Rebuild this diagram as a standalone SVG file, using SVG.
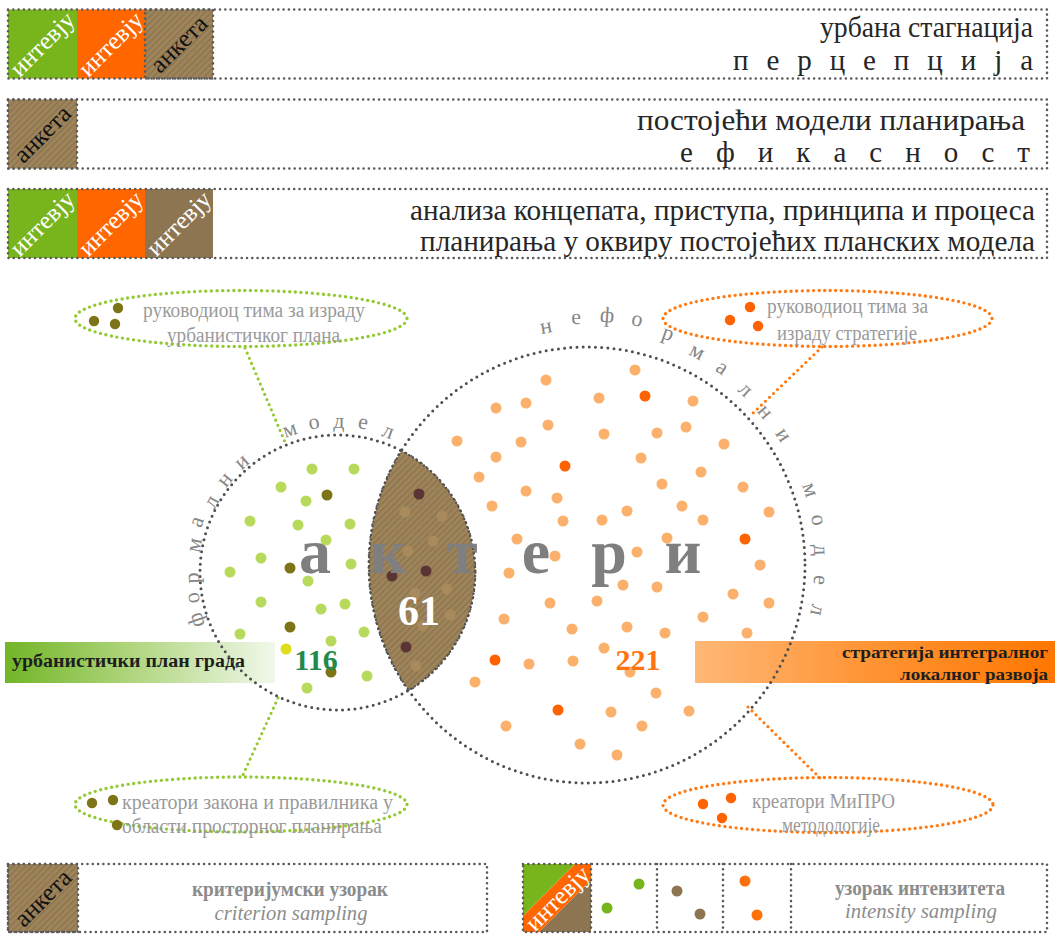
<svg xmlns="http://www.w3.org/2000/svg" width="1055" height="934" viewBox="0 0 1055 934">
<defs>
<pattern id="hatch" width="4.5" height="4.5" patternUnits="userSpaceOnUse" patternTransform="rotate(45)">
<rect width="4.5" height="4.5" fill="#9e845b"/>
<rect width="1.3" height="4.5" fill="#8b734c"/>
</pattern>
<linearGradient id="gGreen" x1="0" x2="1" y1="0" y2="0">
<stop offset="0" stop-color="#72b526"/><stop offset="0.45" stop-color="#add47a"/><stop offset="1" stop-color="#f1f8ea"/>
</linearGradient>
<linearGradient id="gOrange" x1="0" x2="1" y1="0" y2="0">
<stop offset="0" stop-color="#ffb877"/><stop offset="0.45" stop-color="#ff9638"/><stop offset="1" stop-color="#ff7700"/>
</linearGradient>
</defs>
<style>
.box{fill:none;stroke:#5a5a5a;stroke-width:2.6;stroke-dasharray:0 5.3;stroke-linecap:round}
.hd{font-family:"Liberation Serif",serif;font-size:29px;fill:#262626;text-anchor:end}
.sq{font-family:"Liberation Serif",serif;font-size:25px;text-anchor:middle}
.el{fill:none;stroke-width:3.4;stroke-dasharray:0 5.6;stroke-linecap:round}
.gr{stroke:#93c932}
.or{stroke:#ff7a12}
.con{fill:none;stroke-width:3.2;stroke-dasharray:0 5.6;stroke-linecap:round}
.circ{fill:none;stroke:#4f4f4f;stroke-width:3;stroke-dasharray:0 6.2;stroke-linecap:round}
.et{font-family:"Liberation Serif",serif;font-size:20px;fill:#9a9a9a}
.arc{font-family:"Liberation Serif",serif;font-size:22px;fill:#868686;text-anchor:middle}
.big{font-family:"Liberation Serif",serif;font-size:64px;font-weight:bold;fill:#7f7f7f;text-anchor:middle}
.lg{fill:#b8da5c}.ol{fill:#7d7418}.lo{fill:#fbb16c}.do{fill:#ff6200}.ld{fill:#5b3535}.lf{fill:#a88a5c}
.bt{font-family:"Liberation Serif",serif;font-weight:bold;fill:#1e1e1e}
.lt{font-family:"Liberation Serif",serif;fill:#8c8c8c;text-anchor:middle}
</style>

<!-- Row 1 -->
<g id="row1">
<rect x="8" y="9.5" width="69" height="69" fill="#78b51d"/>
<rect x="77" y="9.5" width="68" height="69" fill="#ff6600"/>
<rect x="145" y="9.5" width="68" height="69" fill="url(#hatch)"/>
<rect x="145" y="9.5" width="68" height="69" class="box"/>
<text class="sq" fill="#fff" transform="translate(42.5,44) rotate(-45)" y="8">интевју</text>
<text class="sq" fill="#fff" transform="translate(111,44) rotate(-45)" y="8">интевју</text>
<text class="sq" fill="#111" transform="translate(179,44) rotate(-45)" y="8">анкета</text>
<rect x="8" y="9.5" width="1039" height="69" class="box"/>
<text class="hd" x="1033" y="37" textLength="213" lengthAdjust="spacingAndGlyphs">урбана стагнација</text>
<text class="hd" x="1033" y="70" textLength="300">п е р ц е п ц и ј а</text>
</g>

<!-- Row 2 -->
<g id="row2">
<rect x="8" y="99.5" width="69" height="69" fill="url(#hatch)"/>
<rect x="8" y="99.5" width="69" height="69" class="box"/>
<text class="sq" fill="#111" transform="translate(42.5,134) rotate(-45)" y="8">анкета</text>
<rect x="8" y="99.5" width="1039" height="69" class="box"/>
<text class="hd" x="1025" y="130" textLength="388" lengthAdjust="spacingAndGlyphs">постојећи модели планирања</text>
<text class="hd" x="1030" y="162" textLength="350">е ф и к а с н о с т</text>
</g>

<!-- Row 3 -->
<g id="row3">
<rect x="8" y="189" width="69" height="69" fill="#78b51d"/>
<rect x="77" y="189" width="68" height="69" fill="#ff6600"/>
<rect x="145" y="189" width="68" height="69" fill="#8c7550"/>
<text class="sq" fill="#fff" transform="translate(42.5,223.5) rotate(-45)" y="8">интевју</text>
<text class="sq" fill="#fff" transform="translate(111,223.5) rotate(-45)" y="8">интевју</text>
<text class="sq" fill="#fff" transform="translate(179,223.5) rotate(-45)" y="8">интевју</text>
<rect x="8" y="189" width="1039" height="69" class="box"/>
<text class="hd" x="1035" y="220" textLength="625" lengthAdjust="spacingAndGlyphs">анализа концепата, приступа, принципа и процеса</text>
<text class="hd" x="1035" y="251" textLength="615" lengthAdjust="spacingAndGlyphs">планирања у оквиру постојећих  планских модела</text>
</g>

<!-- bars -->
<g id="bar-left">
<rect x="5" y="642" width="270" height="41" fill="url(#gGreen)"/>
<text class="bt" x="12" y="667" font-size="18" textLength="233" lengthAdjust="spacingAndGlyphs">урбанистички план града</text>
</g>
<g id="bar-right">
<rect x="695" y="641" width="360" height="42" fill="url(#gOrange)"/>
<text class="bt" x="1048" y="658" font-size="17" text-anchor="end" textLength="206" lengthAdjust="spacingAndGlyphs">стратегија интегралног</text>
<text class="bt" x="1048" y="680" font-size="17" text-anchor="end" textLength="148" lengthAdjust="spacingAndGlyphs">локалног развоја</text>
</g>

<!-- connectors -->
<g id="connectors">
<line class="con gr" x1="245" y1="348" x2="285" y2="442"/>
<line class="con gr" x1="278" y1="698" x2="242" y2="777"/>
<line class="con or" x1="822" y1="347" x2="750" y2="416"/>
<line class="con or" x1="748" y1="707" x2="820" y2="778"/>
</g>

<!-- ellipses -->
<g id="ellipse-tl">
<ellipse class="el gr" cx="241" cy="318.5" rx="166" ry="28"/>
<circle cx="118" cy="308" r="5.2" class="ol"/><circle cx="94" cy="321" r="5.2" class="ol"/><circle cx="115" cy="324" r="5.2" class="ol"/>
<text class="et" x="143" y="317" textLength="222" lengthAdjust="spacingAndGlyphs">руководиоц тима за израду</text>
<text class="et" x="167" y="342" textLength="173" lengthAdjust="spacingAndGlyphs">урбанистичког плана</text>
</g>
<g id="ellipse-tr">
<ellipse class="el or" cx="827.5" cy="318.5" rx="164.5" ry="28"/>
<circle cx="750" cy="307" r="5.2" class="do"/><circle cx="730" cy="320" r="5.2" class="do"/><circle cx="758" cy="326" r="5.2" class="do"/>
<text class="et" x="767" y="313" textLength="161" lengthAdjust="spacingAndGlyphs">руководиоц тима за</text>
<text class="et" x="777" y="340" textLength="140" lengthAdjust="spacingAndGlyphs">израду стратегије</text>
</g>
<g id="ellipse-bl">
<ellipse class="el gr" cx="241" cy="804.5" rx="166" ry="27.5"/>
<circle cx="92" cy="803" r="5.2" class="ol"/><circle cx="113" cy="800" r="5.2" class="ol"/><circle cx="117" cy="825" r="5.2" class="ol"/>
<text class="et" x="122" y="809" textLength="271" lengthAdjust="spacingAndGlyphs">креатори закона и правилника у</text>
<text class="et" x="122" y="833" textLength="260" lengthAdjust="spacingAndGlyphs">области просторног планирања</text>
</g>
<g id="ellipse-br">
<ellipse class="el or" cx="828" cy="805" rx="165" ry="27.5"/>
<circle cx="703" cy="804" r="5.2" class="do"/><circle cx="731" cy="798" r="5.2" class="do"/><circle cx="722" cy="818" r="5.2" class="do"/>
<text class="et" x="752" y="808" textLength="143" lengthAdjust="spacingAndGlyphs">креатори МиПРО</text>
<text class="et" x="782" y="832" textLength="98" lengthAdjust="spacingAndGlyphs">методологије</text>
</g>

<!-- Venn -->
<g id="formal">
<circle class="circ" cx="337.5" cy="572.5" r="137.5"/>
</g>
<g id="informal">
<circle class="circ" cx="587" cy="565" r="218"/>
</g>
<g id="overlap">
<path d="M401.4,450.7 A137.5,137.5 0 0 1 408.6,690.3 A218,218 0 0 1 401.4,450.7 Z" fill="url(#hatch)" stroke="#4f4f4f" stroke-width="2.4" stroke-dasharray="0 4.5" stroke-linecap="round"/>
</g>

<g id="dots-formal">
<circle cx="312" cy="469" r="5.5" class="lg"/><circle cx="354" cy="469" r="5.5" class="lg"/><circle cx="281" cy="487" r="5.5" class="lg"/><circle cx="306" cy="501" r="5.5" class="lg"/><circle cx="250" cy="521" r="5.5" class="lg"/><circle cx="298" cy="525" r="5.5" class="lg"/><circle cx="350" cy="524" r="5.5" class="lg"/><circle cx="326" cy="540" r="5.5" class="lg"/><circle cx="261" cy="558" r="5.5" class="lg"/><circle cx="351" cy="564" r="5.5" class="lg"/><circle cx="230" cy="572" r="5.5" class="lg"/><circle cx="308" cy="581" r="5.5" class="lg"/><circle cx="261" cy="602" r="5.5" class="lg"/><circle cx="321" cy="609" r="5.5" class="lg"/><circle cx="345" cy="604" r="5.5" class="lg"/><circle cx="240" cy="634" r="5.5" class="lg"/><circle cx="331" cy="641" r="5.5" class="lg"/><circle cx="364" cy="632" r="5.5" class="lg"/><circle cx="367" cy="676" r="5.5" class="lg"/><circle cx="307" cy="688" r="5.5" class="lg"/>
<circle cx="327" cy="495" r="5.5" class="ol"/><circle cx="290" cy="568" r="5.5" class="ol"/><circle cx="290" cy="627" r="5.5" class="ol"/><circle cx="331" cy="672" r="5.5" class="ol"/>
<circle cx="286" cy="649" r="5.5" fill="#dede1a"/>
</g>
<g id="dots-overlap">
<circle cx="405" cy="512" r="5.5" class="lf"/><circle cx="442" cy="516" r="5.5" class="lf"/><circle cx="433" cy="541" r="5.5" class="lf"/><circle cx="408" cy="551" r="5.5" class="lf"/><circle cx="447" cy="589" r="5.5" class="lf"/><circle cx="415" cy="593" r="5.5" class="lf"/><circle cx="450" cy="615" r="5.5" class="lf"/><circle cx="423" cy="626" r="5.5" class="lf"/><circle cx="416" cy="666" r="5.5" class="lf"/>
<circle cx="419" cy="494" r="5.5" class="ld"/><circle cx="392" cy="576" r="5.5" class="ld"/><circle cx="426" cy="571" r="5.5" class="ld"/><circle cx="406" cy="647" r="5.5" class="ld"/>
</g>
<g id="dots-informal">
<circle cx="546" cy="380" r="5.5" class="lo"/><circle cx="496" cy="408" r="5.5" class="lo"/><circle cx="526" cy="403" r="5.5" class="lo"/><circle cx="599" cy="398" r="5.5" class="lo"/><circle cx="457" cy="441" r="5.5" class="lo"/><circle cx="548" cy="425" r="5.5" class="lo"/><circle cx="521" cy="442" r="5.5" class="lo"/><circle cx="604" cy="434" r="5.5" class="lo"/><circle cx="496" cy="457" r="5.5" class="lo"/><circle cx="479" cy="477" r="5.5" class="lo"/><circle cx="526" cy="491" r="5.5" class="lo"/><circle cx="557" cy="498" r="5.5" class="lo"/><circle cx="492" cy="506" r="5.5" class="lo"/><circle cx="563" cy="521" r="5.5" class="lo"/><circle cx="602" cy="520" r="5.5" class="lo"/><circle cx="627" cy="511" r="5.5" class="lo"/><circle cx="517" cy="539" r="5.5" class="lo"/><circle cx="555" cy="556" r="5.5" class="lo"/><circle cx="509" cy="573" r="5.5" class="lo"/><circle cx="623" cy="585" r="5.5" class="lo"/><circle cx="550" cy="603" r="5.5" class="lo"/><circle cx="597" cy="601" r="5.5" class="lo"/><circle cx="504" cy="619" r="5.5" class="lo"/><circle cx="572" cy="629" r="5.5" class="lo"/><circle cx="627" cy="627" r="5.5" class="lo"/><circle cx="604" cy="648" r="5.5" class="lo"/><circle cx="529" cy="664" r="5.5" class="lo"/><circle cx="573" cy="661" r="5.5" class="lo"/><circle cx="475" cy="682" r="5.5" class="lo"/><circle cx="611" cy="712" r="5.5" class="lo"/>
<circle cx="635" cy="370" r="5.5" class="lo"/><circle cx="693" cy="401" r="5.5" class="lo"/><circle cx="657" cy="433" r="5.5" class="lo"/><circle cx="686" cy="427" r="5.5" class="lo"/><circle cx="724" cy="444" r="5.5" class="lo"/><circle cx="641" cy="458" r="5.5" class="lo"/><circle cx="701" cy="472" r="5.5" class="lo"/><circle cx="662" cy="484" r="5.5" class="lo"/><circle cx="743" cy="487" r="5.5" class="lo"/><circle cx="682" cy="506" r="5.5" class="lo"/><circle cx="769" cy="512" r="5.5" class="lo"/><circle cx="703" cy="520" r="5.5" class="lo"/><circle cx="667" cy="538" r="5.5" class="lo"/><circle cx="637" cy="552" r="5.5" class="lo"/><circle cx="760" cy="565" r="5.5" class="lo"/><circle cx="657" cy="587" r="5.5" class="lo"/><circle cx="733" cy="594" r="5.5" class="lo"/><circle cx="769" cy="603" r="5.5" class="lo"/><circle cx="703" cy="617" r="5.5" class="lo"/><circle cx="665" cy="633" r="5.5" class="lo"/><circle cx="747" cy="633" r="5.5" class="lo"/><circle cx="630" cy="672" r="5.5" class="lo"/><circle cx="656" cy="693" r="5.5" class="lo"/><circle cx="689" cy="711" r="5.5" class="lo"/><circle cx="642" cy="726" r="5.5" class="lo"/><circle cx="506" cy="726" r="5.5" class="lo"/><circle cx="580" cy="744" r="5.5" class="lo"/><circle cx="617" cy="755" r="5.5" class="lo"/>
<circle cx="565" cy="466" r="5.5" class="do"/><circle cx="495" cy="660" r="5.5" class="do"/><circle cx="558" cy="710" r="5.5" class="do"/><circle cx="645" cy="396" r="5.5" class="do"/><circle cx="745" cy="539" r="5.5" class="do"/>
</g>

<g id="arc-formal">
<text class="arc" transform="translate(197,620) rotate(-108.8)" y="6">ф</text>
<text class="arc" transform="translate(193,598) rotate(-100.2)" y="6">о</text>
<text class="arc" transform="translate(193,578) rotate(-92.4)" y="6">р</text>
<text class="arc" transform="translate(195,545) rotate(-79.3)" y="6">м</text>
<text class="arc" transform="translate(197,522) rotate(-70.5)" y="6">а</text>
<text class="arc" transform="translate(212,502) rotate(-61)" y="6">л</text>
<text class="arc" transform="translate(225,480) rotate(-51)" y="6">н</text>
<text class="arc" transform="translate(242,462) rotate(-41)" y="6">и</text>
<text class="arc" transform="translate(290,430) rotate(-18.7)" y="6">м</text>
<text class="arc" transform="translate(314,423) rotate(-9.2)" y="6">о</text>
<text class="arc" transform="translate(339,422) rotate(0.4)" y="6">д</text>
<text class="arc" transform="translate(363,423) rotate(9.5)" y="6">е</text>
<text class="arc" transform="translate(388,432) rotate(19.7)" y="6">л</text>
</g>
<g id="arc-informal">
<text class="arc" transform="translate(546,327) rotate(-9.8)" y="6">н</text>
<text class="arc" transform="translate(576,318) rotate(-2.5)" y="6">е</text>
<text class="arc" transform="translate(607,316) rotate(4.6)" y="6">ф</text>
<text class="arc" transform="translate(637,320) rotate(11.5)" y="6">о</text>
<text class="arc" transform="translate(668,334) rotate(19.3)" y="6">р</text>
<text class="arc" transform="translate(697,352) rotate(27.3)" y="6">м</text>
<text class="arc" transform="translate(722,368) rotate(34.4)" y="6">а</text>
<text class="arc" transform="translate(745,390) rotate(42.1)" y="6">л</text>
<text class="arc" transform="translate(765,412) rotate(49.3)" y="6">н</text>
<text class="arc" transform="translate(783,435) rotate(56.4)" y="6">и</text>
<text class="arc" transform="translate(810,490) rotate(71.4)" y="6">м</text>
<text class="arc" transform="translate(818,520) rotate(79)" y="6">о</text>
<text class="arc" transform="translate(820,550) rotate(86.3)" y="6">д</text>
<text class="arc" transform="translate(820,580) rotate(93.7)" y="6">е</text>
<text class="arc" transform="translate(817,610) rotate(101.1)" y="6">л</text>
</g>

<g id="title-akteri">
<text class="big" x="315" y="573">а</text>
<text class="big" x="388" y="573">к</text>
<text class="big" x="462" y="573">т</text>
<text class="big" x="536" y="573">е</text>
<text class="big" x="609" y="573">р</text>
<text class="big" x="683" y="573">и</text>
</g>
<g id="numbers">
<text x="419" y="625" font-family="Liberation Serif, serif" font-size="42" font-weight="bold" fill="#fff" text-anchor="middle">61</text>
<text x="316" y="670" font-family="Liberation Serif, serif" font-size="30" font-weight="bold" fill="#1f8a4c" text-anchor="middle">116</text>
<text x="638" y="670" font-family="Liberation Serif, serif" font-size="30" font-weight="bold" fill="#ff7410" text-anchor="middle">221</text>
</g>

<!-- legend left -->
<g id="legend-criterion">
<rect x="8" y="864" width="70" height="68" fill="url(#hatch)"/>
<rect x="8" y="864" width="70" height="68" class="box"/>
<text class="sq" fill="#111" transform="translate(43,898) rotate(-45)" y="8">анкета</text>
<rect x="8" y="864" width="479" height="68" class="box"/>
<text class="lt" x="290" y="896" font-size="20" font-weight="bold" textLength="196" lengthAdjust="spacingAndGlyphs">критеријумски узорак</text>
<text class="lt" x="291" y="920" font-size="21" font-style="italic" textLength="153" lengthAdjust="spacingAndGlyphs">criterion sampling</text>
</g>

<!-- legend right -->
<g id="legend-intensity">
<g transform="translate(523,864)">
<polygon points="0,0 52,0 0,52" fill="#78b51d"/>
<polygon points="68,16 68,68 16,68" fill="#8c7550"/>
<polygon points="52,0 68,0 68,16 16,68 0,68 0,52" fill="#ff6600"/>
<text class="sq" fill="#fff" font-size="19" transform="translate(36,36) rotate(-45)" y="6">интевју</text>
</g>
<rect x="523" y="864" width="524" height="68" class="box"/>
<line x1="591" y1="864" x2="591" y2="932" class="box"/>
<line x1="657" y1="864" x2="657" y2="932" class="box"/>
<line x1="723" y1="864" x2="723" y2="932" class="box"/>
<line x1="791" y1="864" x2="791" y2="932" class="box"/>
<circle cx="639" cy="884" r="5.5" fill="#78b51d"/><circle cx="607" cy="908" r="5.5" fill="#78b51d"/>
<circle cx="677" cy="891" r="5.5" fill="#8c7550"/><circle cx="700" cy="914" r="5.5" fill="#8c7550"/>
<circle cx="745" cy="881" r="5.5" fill="#ff6f0a"/><circle cx="757" cy="915" r="5.5" fill="#ff6f0a"/>
<text class="lt" x="920" y="895" font-size="20" font-weight="bold" textLength="170" lengthAdjust="spacingAndGlyphs">узорак интензитета</text>
<text class="lt" x="921" y="918" font-size="21" font-style="italic" textLength="152" lengthAdjust="spacingAndGlyphs">intensity sampling</text>
</g>
</svg>
